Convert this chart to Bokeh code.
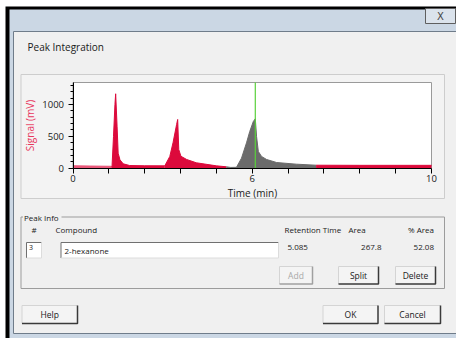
import numpy as np
from bokeh.plotting import figure
from bokeh.models import Range1d, LinearAxis, FixedTicker
from bokeh.core.properties import value
from bokeh.embed import file_html
from bokeh.resources import INLINE

# ---------------- data ----------------
time_min = [0.0, 0.5, 1.07, 1.09, 1.13, 1.17, 1.19, 1.23, 1.26, 1.31, 1.40, 1.58, 2.0, 2.56,
            2.70, 2.79, 2.89, 2.92, 2.95, 3.01, 3.17, 3.44, 4.0, 4.28, 4.40, 4.56, 4.70,
            4.84, 4.93, 5.03, 5.085, 5.12, 5.17, 5.26, 5.40, 5.68, 6.23, 6.78, 8.0, 10.0]
signal_mv = [38, 34, 30, 40, 500, 1000, 1168, 650, 235, 132, 69, 42, 38, 37,
             184, 399, 686, 765, 293, 188, 137, 85, 37, 22, 12, 14, 157,
             398, 576, 733, 775, 498, 262, 184, 137, 89, 63, 47, 45, 45]
region_start = [0.0, 1.07, 2.56, 4.28, 6.78]
region_end = [1.07, 2.56, 4.28, 6.78, 10.0]
region_color = ["#e9587a", "#dc0a3c", "#dc0a3c", "#6b6b6b", "#dc0a3c"]
selected_rt = 5.085

x_label_ticks = [0, 5, 10]
x_tick_labels = ["0", "6", "10"]
x_minor_ticks = [1, 2, 3, 4, 6, 7, 8, 9]
y_major_ticks = [0, 500, 1000]
y_minor_ticks = [100, 200, 300, 400, 600, 700, 800, 900, 1100, 1200, 1300]
t_min, t_max = 0, 10
s_min, s_max = 0, 1345

table_headers = ["#", "Compound", "Retention Time", "Area", "% Area"]
peak_number = "3"
compound = "2-hexanone"
retention_time = "5.085"
area = "267.8"
pct_area = "52.08"

# ---------------- layout (pixels) ----------------
W, H = 456, 338
CX0, CX1 = 72.5, 431.0      # chart frame left/right
CY0, CY1 = 167.7, 82.0      # chart frame bottom (signal 0) / top
FONT = "Open Sans"

p = figure(width=W, height=H, x_range=Range1d(0, W), y_range=Range1d(H, 0),
           x_axis_type=None, y_axis_type=None, output_backend="svg",
           toolbar_location=None, min_border=0,
           background_fill_color="white", border_fill_color="white",
           outline_line_color=None)
p.grid.visible = False

sx = (CX1 - CX0) / (t_max - t_min)
sy = (CY0 - CY1) / (s_max - s_min)
p.extra_x_ranges = {"t": Range1d(t_min - CX0 / sx, t_min + (W - CX0) / sx)}
p.extra_y_ranges = {"s": Range1d(s_min + (CY0 - H) / sy, s_min + CY0 / sy)}
C = dict(x_range_name="t", y_range_name="s")


def txt(x, y, s, size="8px", align="left", color="#1a1a1a", font=FONT):
    p.text(x=[x], y=[y], text=[s], text_align=align, text_baseline="middle",
           text_font=value(font), text_font_size=size, text_color=color)


def button(x0, x1, y0, y1, label, enabled=True):
    p.quad(left=x0, right=x1, top=y0, bottom=y1, fill_color="#f4f4f4", line_color=None)
    p.line([x0, x0, x1], [y1, y0, y0], line_color="#d4d4d4", line_width=1)
    p.line([x0, x1, x1], [y1, y1, y0], line_color="#3a3a3a" if enabled else "#a0a0a0",
           line_width=1.5)
    txt((x0 + x1) / 2, (y0 + y1) / 2, label, "8.5px", "center",
        "#1a1a1a" if enabled else "#a8a8a8")


def entry(x0, x1, y0, y1):
    p.quad(left=x0, right=x1, top=y0, bottom=y1, fill_color="white", line_color=None)
    p.line([x0, x0, x1], [y1, y0, y0], line_color="#707070", line_width=1)
    p.line([x0, x1, x1], [y1, y1, y0], line_color="#dcdcdc", line_width=1)


# window chrome
p.quad(left=5, right=470, top=6, bottom=350, fill_color="black", line_color=None)
p.quad(left=9, right=470, top=9, bottom=346, fill_color="#cbd7e4", line_color=None)
p.quad(left=13, right=470, top=31, bottom=333, fill_color="#f0f0f0",
       line_color="#6f7c8a", line_width=1)
p.quad(left=425, right=455, top=8, bottom=23, fill_color="#dbe3ec",
       line_color="#5f5f5f", line_width=1)
txt(440, 15.5, "X", "10px", "center", "#444444", "DejaVu Sans")
txt(27, 46, "Peak Integration", "10px")

# chart group box
p.quad(left=20.5, right=444, top=74, bottom=198, fill_color="#f3f3f3",
       line_color="#cdcdcd", line_width=1)

# chart frame
p.quad(left=t_min, right=t_max, bottom=s_min, top=s_max, fill_color="white",
       line_color="#9a9a9a", line_width=1, **C)

t = np.array(time_min)
s = np.array(signal_mv, dtype=float)
for a, b, col in zip(region_start, region_end, region_color):
    m = (t >= a) & (t <= b)
    p.varea(x=t[m], y1=0, y2=s[m], fill_color=col, **C)
    p.line(t[m], s[m], line_color=col, line_width=1, **C)

p.segment(x0=[selected_rt], y0=[s_min], x1=[selected_rt], y1=[s_max],
          line_color="#5ad03c", line_width=1.2, **C)

xax = LinearAxis(x_range_name="t", y_range_name="s", fixed_location=0, bounds=(t_min, t_max),
                 ticker=FixedTicker(ticks=x_label_ticks, minor_ticks=x_minor_ticks),
                 major_label_overrides=dict(zip(x_label_ticks, x_tick_labels)),
                 axis_label="Time (min)", axis_line_color="black",
                 major_tick_in=0, major_tick_out=5, minor_tick_in=0, minor_tick_out=5,
                 major_tick_line_color="black", minor_tick_line_color="black",
                 major_label_standoff=2, axis_label_standoff=0,
                 major_label_text_font=FONT, major_label_text_font_size="9.5px",
                 major_label_text_color="#1a1a1a",
                 axis_label_text_font=FONT, axis_label_text_font_size="10px",
                 axis_label_text_font_style="normal", axis_label_text_color="#1a1a1a")
p.add_layout(xax, "below")

yax = LinearAxis(x_range_name="t", y_range_name="s", fixed_location=0, bounds=(s_min, s_max),
                 ticker=FixedTicker(ticks=y_major_ticks, minor_ticks=y_minor_ticks),
                 axis_label="Signal (mV)", axis_line_color="black",
                 major_tick_in=0, major_tick_out=5, minor_tick_in=0, minor_tick_out=3,
                 major_tick_line_color="black", minor_tick_line_color="black",
                 major_label_standoff=4, axis_label_standoff=3,
                 major_label_text_font=FONT, major_label_text_font_size="9.5px",
                 major_label_text_color="#1a1a1a",
                 axis_label_text_font=FONT, axis_label_text_font_size="10px",
                 axis_label_text_font_style="normal", axis_label_text_color="#e8365d")
p.add_layout(yax, "left")

# peak info group
p.quad(left=20.5, right=444, top=216.5, bottom=288, fill_color=None,
       line_color="#9c9c9c", line_width=1)
p.quad(left=22.5, right=61, top=211, bottom=222, fill_color="#f0f0f0", line_color=None)
txt(23.5, 217, "Peak Info", "8px")
txt(33.5, 228.5, table_headers[0], "8px", "center")
txt(55, 228.5, table_headers[1], "8px")
txt(284, 228.5, table_headers[2], "8px")
txt(348, 228.5, table_headers[3], "8px")
txt(433.5, 228.5, table_headers[4], "8px", "right")

entry(26, 41, 242, 257.5)
entry(60.5, 278, 242, 257.5)
txt(28.5, 246.5, peak_number, "7px")
txt(64, 250, compound, "8px")
txt(287, 246.5, retention_time, "8px")
txt(381, 246.5, area, "8px", "right")
txt(433.5, 246.5, pct_area, "8px", "right")

button(279, 312, 266, 283.5, "Add", enabled=False)
button(338, 378, 266, 283.5, "Split")
button(395, 435, 266, 283.5, "Delete")
button(21.5, 77, 305, 323, "Help")
button(322.5, 377.5, 305, 323, "OK")
button(384, 440, 305, 323, "Cancel")

open("out.html", "w").write(file_html(p, INLINE))
